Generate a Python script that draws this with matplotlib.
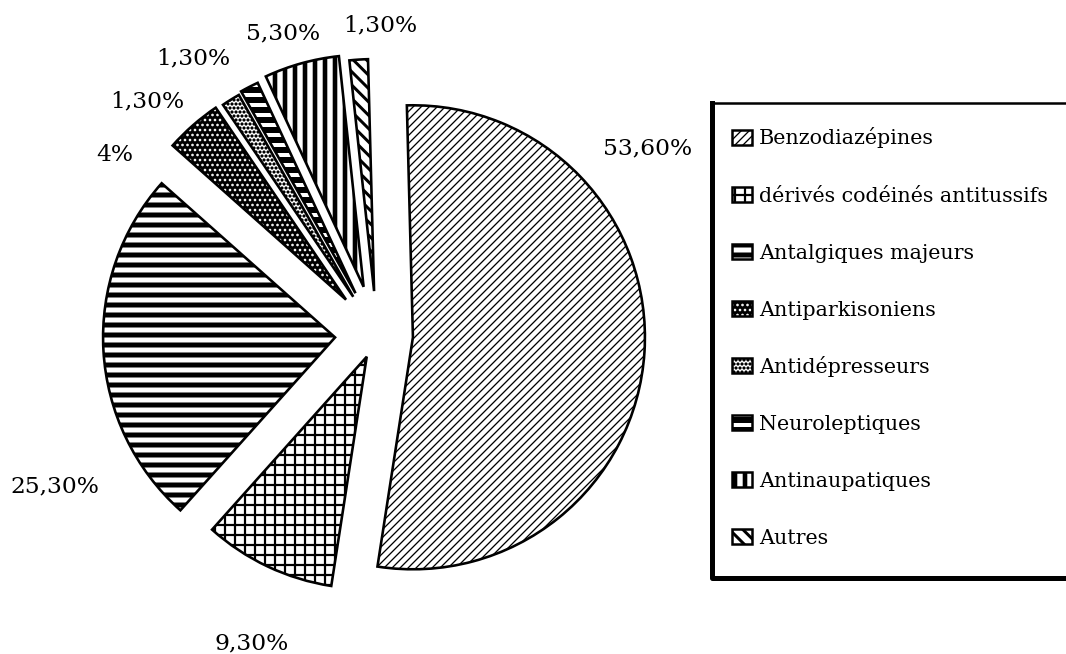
import matplotlib
matplotlib.use("Agg")
import matplotlib.pyplot as plt
from matplotlib.patches import Wedge, Rectangle

# ---------------- data ----------------
categories = ["Benzodiazépines", "dérivés codéinés antitussifs", "Antalgiques majeurs",
              "Antiparkisoniens", "Antidépresseurs", "Neuroleptiques",
              "Antinaupatiques", "Autres"]
values = [53.6, 9.3, 25.3, 4.0, 1.3, 1.3, 5.3, 1.3]
pct_labels = ["53,60%", "9,30%", "25,30%", "4%", "1,30%", "1,30%", "5,30%", "1,30%"]

# ---------------- layout / style ----------------
W, H, DPI = 1066, 654, 120
SERIF = ["DejaVu Serif"]

def py(y):  # pixel-from-top -> data y
    return H - y

def px2pt(p):
    return p * 72.0 / DPI

explode_px = [36, 24, 42, 47, 45, 47, 50, 44]
pie_center = (377, py(335))
pie_radius = 232

styles = [
    dict(face="white", hatch="/////", hc="black", hlw=1.3),
    dict(face="white", hatch="++", hc="black", hlw=2.2),
    dict(face="white", hatch="--", hc="black", hlw=5.0),
    dict(face="black", hatch="....", hc="white", hlw=1.6),
    dict(face="white", hatch="ooooo", hc="black", hlw=1.2),
    dict(face="black", hatch="--", hc="white", hlw=4.0),
    dict(face="white", hatch="||", hc="black", hlw=4.6),
    dict(face="white", hatch="\\" * 3, hc="black", hlw=3.0),
]

label_xy = [(648, 145), (252, 640), (55, 483), (115, 152), (147, 98),
            (193, 55), (283, 30), (380, 22)]

fig = plt.figure(figsize=(W / DPI, H / DPI), dpi=DPI)
ax = fig.add_axes([0, 0, 1, 1])

wedges, _ = ax.pie(values, explode=explode_px, radius=pie_radius, center=pie_center,
                   startangle=91.5, counterclock=False,
                   wedgeprops=dict(linewidth=0))


def with_hatch_lw(p, lw_pt):
    """Give one patch its own hatch line width (set at creation and at draw)."""
    if hasattr(p, "set_hatch_linewidth"):
        p.set_hatch_linewidth(lw_pt)
    orig = p.draw

    def draw(renderer, _orig=orig, _lw=lw_pt):
        with matplotlib.rc_context({"hatch.linewidth": _lw}):
            _orig(renderer)
    p.draw = draw
    return p


def hatch_layer(patch_cls, args, st, z):
    lw = px2pt(st["hlw"])
    with matplotlib.rc_context({"hatch.linewidth": lw}):
        p = patch_cls(*args, fill=False, hatch=st["hatch"], edgecolor=st["hc"],
                      linewidth=0, zorder=z)
    with_hatch_lw(p, lw)
    ax.add_patch(p)
    return p


for w, st in zip(wedges, styles):
    w.set_facecolor(st["face"])
    w.set_zorder(1)
    geom = (w.center, w.r, w.theta1, w.theta2)
    hatch_layer(Wedge, geom, st, 2)
    ax.add_patch(Wedge(*geom, fill=False, edgecolor="black",
                       linewidth=px2pt(2.6), zorder=3))

for (x, y), t in zip(label_xy, pct_labels):
    ax.text(x, py(y + 9), t, ha="center", va="baseline", fontsize=14,
            family=SERIF, color="black")

# ---------------- legend ----------------
box_x0, box_y0, box_x1, box_y1 = 712, 103, 1070, 578
ax.add_patch(Rectangle((box_x0, py(box_y1)), box_x1 - box_x0, box_y1 - box_y0,
                       fill=False, edgecolor="black", linewidth=px2pt(2.5), zorder=4))
ax.plot([box_x0, box_x0, box_x1], [py(box_y0), py(box_y1), py(box_y1)],
        color="black", linewidth=px2pt(5), solid_capstyle="projecting", zorder=4)
row0, row_step = 137, 57.1
icon_x, icon_w, icon_h, text_x = 732, 20, 15, 759
for i, (cat, st) in enumerate(zip(categories, styles)):
    yc = row0 + i * row_step
    xy = (icon_x, py(yc + icon_h / 2))
    ax.add_patch(Rectangle(xy, icon_w, icon_h, facecolor=st["face"],
                           linewidth=0, zorder=4))
    hatch_layer(Rectangle, (xy, icon_w, icon_h), st, 5)
    ax.add_patch(Rectangle(xy, icon_w, icon_h, fill=False, edgecolor="black",
                           linewidth=px2pt(2.5), zorder=6))
    ax.text(text_x, py(yc + 7.5), cat, ha="left", va="baseline", fontsize=12.4,
            family=SERIF, color="black")

ax.set_xlim(0, W)
ax.set_ylim(0, H)
ax.set_aspect("auto")
ax.axis("off")

fig.savefig("out.png", dpi=DPI, facecolor="white")
